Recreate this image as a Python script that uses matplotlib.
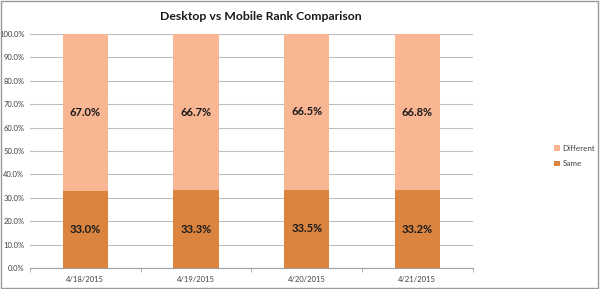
import matplotlib.pyplot as plt
import numpy as np
from matplotlib.patches import Rectangle
from matplotlib.ticker import FuncFormatter

plt.rcParams['font.family'] = ['Lato', 'DejaVu Sans']

# data
dates = ['4/18/2015', '4/19/2015', '4/20/2015', '4/21/2015']
same = [33.0, 33.3, 33.5, 33.2]
different = [67.0, 66.7, 66.5, 66.8]
colors = {'Same': '#DA843F', 'Different': '#F8B693'}

fig = plt.figure(figsize=(6, 2.89), dpi=100)
fig.patches.append(Rectangle((0.002, 0.003), 0.995, 0.993, transform=fig.transFigure,
                             fill=False, edgecolor='#9a9a9a', linewidth=1))
ax = fig.add_axes([0.05, 0.0727, 0.738, 0.8093])

x = np.arange(len(dates))
ax.bar(x, same, width=0.41, color=colors['Same'], label='Same', zorder=3)
ax.bar(x, different, width=0.41, bottom=same, color=colors['Different'], label='Different', zorder=3)

for i in range(len(dates)):
    ax.text(x[i], same[i] / 2, f'{same[i]:.1f}%', ha='center', va='center',
            fontsize=8, fontweight='bold', color='#1a1a1a', zorder=4)
    ax.text(x[i], same[i] + different[i] / 2, f'{different[i]:.1f}%', ha='center', va='center',
            fontsize=8, fontweight='bold', color='#1a1a1a', zorder=4)

ax.set_xlim(-0.5, len(dates) - 0.5)
ax.set_ylim(0, 100)
ax.set_yticks(np.arange(0, 101, 10))
ax.yaxis.set_major_formatter(FuncFormatter(lambda v, p: f'{v:.1f}%'))
ax.set_xticks(x)
ax.set_xticklabels(dates)
ax.set_xticks(np.arange(-0.5, len(dates), 1), minor=True)
ax.tick_params(axis='x', which='major', length=0, labelsize=5.5, pad=6, colors='#404040')
ax.tick_params(axis='x', which='minor', length=3, color='#a0a0a0')
ax.tick_params(axis='y', length=0, labelsize=5.5, pad=4, colors='#404040')
ax.grid(axis='y', color='#bdbdbd', linewidth=0.8, zorder=0)
for s in ['top', 'right']:
    ax.spines[s].set_visible(False)
ax.spines['left'].set_visible(False)
ax.spines['bottom'].set_color('#a0a0a0')

fig.text(261 / 600, 1 - 17 / 289, 'Desktop vs Mobile Rank Comparison', ha='center', va='center',
         fontsize=8.8, fontweight='bold', color='#1a1a1a')

handles, labels = ax.get_legend_handles_labels()
fig.legend(handles[::-1], labels[::-1], loc='center left', bbox_to_anchor=(0.912, 0.46),
           frameon=False, fontsize=5.8, handlelength=0.7, handleheight=0.7,
           handletextpad=0.3, labelspacing=1.1, labelcolor='#404040')

fig.savefig('out.png', dpi=100)
